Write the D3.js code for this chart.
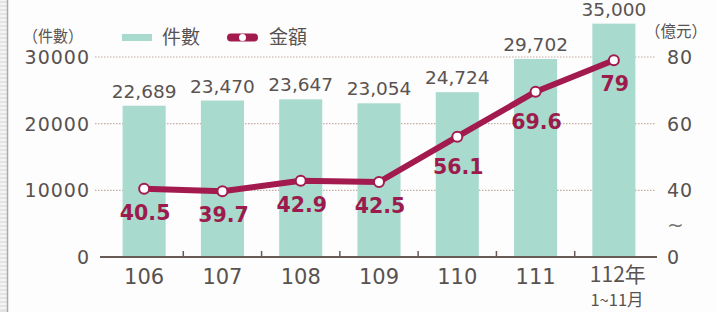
<!DOCTYPE html>
<html>
<head>
  <meta charset="utf-8">
  <title>件數 金額</title>
  <script src="https://cdn.jsdelivr.net/npm/d3@7"></script>
  <style type="text/css">
    body { margin: 0; background: #fdfdfd; }
    svg { display: block; }
    text { font-family: "DejaVu Sans", sans-serif; }
    .cjk { font-family: "Noto Sans CJK TC", sans-serif; }
  </style>
</head>
<body>
<svg id="chart" width="717" height="312"></svg>

<script>
  var years = ['106', '107', '108', '109', '110', '111', '112'];
  var yearLabels = ['106', '107', '108', '109', '110', '111', '112年'];
  var counts = [22689, 23470, 23647, 23054, 24724, 29702, 35000];
  var amounts = [40.5, 39.7, 42.9, 42.5, 56.1, 69.6, 79];
  var leftTicks = [0, 10000, 20000, 30000];
  var rightTicks = [0, 40, 60, 80];

  var svg = d3.select('#chart');

  // left border strip
  svg.append('rect').attr('x', 0).attr('y', 0).attr('width', 7).attr('height', 312).attr('fill', '#e4e4e4');
  for (var i = 0; i < 312; i += 4) {
    svg.append('line').attr('x1', 0).attr('x2', 7).attr('y1', i).attr('y2', i)
      .attr('stroke', '#fafafa').attr('stroke-width', 1.5);
  }
  svg.append('line').attr('x1', 7.5).attr('x2', 7.5).attr('y1', 0).attr('y2', 312)
    .attr('stroke', '#a9a9a9').attr('stroke-width', 1.5);

  var x = d3.scaleBand().domain(years).range([105, 653]).paddingInner(0.45).paddingOuter(0.225);
  var y = d3.scaleLinear().domain([0, 30000]).range([257, 57]);
  var y2 = d3.scaleLinear().domain([20, 80]).range([257, 57]);
  var y2pos = function (v) { return v === 0 ? y2(20) : y2(v); };

  // dotted grid
  svg.append('g').selectAll('line')
    .data(leftTicks.filter(function (d) { return d > 0; }))
    .enter().append('line')
    .attr('x1', 95).attr('x2', 655)
    .attr('y1', function (d) { return y(d); })
    .attr('y2', function (d) { return y(d); })
    .attr('stroke', '#c4aca6').attr('stroke-width', 1.2)
    .attr('stroke-dasharray', '1.5,1.5');

  // bars
  svg.append('g').selectAll('rect')
    .data(counts)
    .enter().append('rect')
    .attr('x', function (d, i) { return x(years[i]); })
    .attr('y', function (d) { return y(d); })
    .attr('width', x.bandwidth())
    .attr('height', function (d) { return y(0) - y(d); })
    .attr('fill', '#a8dacd');

  svg.append('g').selectAll('text')
    .data(counts)
    .enter().append('text')
    .attr('x', function (d, i) { return x(years[i]) + x.bandwidth() / 2; })
    .attr('y', function (d) { return y(d) - 8; })
    .attr('text-anchor', 'middle')
    .attr('font-size', 18.5)
    .attr('fill', '#5a5350')
    .text(function (d) { return d3.format(',')(d); });

  // x axis
  var xAxis = svg.append('g');
  xAxis.append('line').attr('x1', 100).attr('x2', 657).attr('y1', 257).attr('y2', 257)
    .attr('stroke', '#6a5a56').attr('stroke-width', 2);
  xAxis.selectAll('.tick')
    .data(years.slice(1))
    .enter().append('line')
    .attr('x1', function (d) { return x(d) - x.step() * x.paddingInner() / 2; })
    .attr('x2', function (d) { return x(d) - x.step() * x.paddingInner() / 2; })
    .attr('y1', 257).attr('y2', 251)
    .attr('stroke', '#6a5a56').attr('stroke-width', 1.5);
  xAxis.selectAll('.lbl')
    .data(yearLabels)
    .enter().append('text')
    .attr('class', function (d, i) { return i === 6 ? 'cjk' : null; })
    .attr('x', function (d, i) { return x(years[i]) + x.bandwidth() / 2 + (i === 6 ? 4 : 0); })
    .attr('y', function (d, i) { return i === 6 ? 282 : 284; })
    .attr('text-anchor', 'middle')
    .attr('font-size', 21)
    .attr('fill', '#585250')
    .text(function (d) { return d; });
  svg.append('text').attr('class', 'cjk')
    .attr('x', 617).attr('y', 306)
    .attr('text-anchor', 'middle')
    .attr('font-size', 16.5)
    .attr('fill', '#585250')
    .text('1~11月');

  // left axis labels
  svg.append('g').selectAll('text')
    .data(leftTicks)
    .enter().append('text')
    .attr('x', 90)
    .attr('y', function (d) { return y(d) + 7; })
    .attr('text-anchor', 'end')
    .attr('font-size', 19)
    .attr('letter-spacing', 1)
    .attr('fill', '#585250')
    .text(function (d) { return d; });

  // right axis labels
  svg.append('g').selectAll('text')
    .data(rightTicks)
    .enter().append('text')
    .attr('x', 667)
    .attr('y', function (d) { return y2pos(d) + 7; })
    .attr('font-size', 19)
    .attr('letter-spacing', 1)
    .attr('fill', '#585250')
    .text(function (d) { return d; });
  svg.append('text').attr('x', 667).attr('y', 232)
    .attr('font-size', 20).attr('fill', '#777')
    .text('~');

  svg.append('text').attr('class', 'cjk')
    .attr('x', 23).attr('y', 42)
    .attr('font-size', 16).attr('fill', '#585250')
    .attr('textLength', 60).attr('lengthAdjust', 'spacingAndGlyphs')
    .text('（件數）');
  svg.append('text').attr('class', 'cjk')
    .attr('x', 645).attr('y', 37)
    .attr('font-size', 16).attr('fill', '#585250')
    .attr('textLength', 62).attr('lengthAdjust', 'spacingAndGlyphs')
    .text('（億元）');

  // legend
  svg.append('rect').attr('x', 122).attr('y', 34).attr('width', 30).attr('height', 7).attr('fill', '#a8dacd');
  svg.append('text').attr('class', 'cjk').attr('x', 162).attr('y', 44)
    .attr('font-size', 19).attr('fill', '#585250').text('件數');
  svg.append('rect').attr('x', 227).attr('y', 33.5).attr('width', 31).attr('height', 8).attr('rx', 4)
    .attr('fill', '#a31a4f');
  svg.append('circle').attr('cx', 242.5).attr('cy', 37.5).attr('r', 3.5).attr('fill', '#fff');
  svg.append('text').attr('class', 'cjk').attr('x', 269).attr('y', 44)
    .attr('font-size', 19).attr('fill', '#585250').text('金額');

  // amount line
  var cx = function (i) { return x(years[i]) + x.bandwidth() / 2; };
  var line = d3.line()
    .x(function (d, i) { return cx(i); })
    .y(function (d) { return y2(d); });

  svg.append('path')
    .datum(amounts)
    .attr('d', line)
    .attr('fill', 'none')
    .attr('stroke', '#a31a4f')
    .attr('stroke-width', 6)
    .attr('stroke-linejoin', 'round');

  svg.append('g').selectAll('circle')
    .data(amounts)
    .enter().append('circle')
    .attr('cx', function (d, i) { return cx(i); })
    .attr('cy', function (d) { return y2(d); })
    .attr('r', 5)
    .attr('fill', '#fff')
    .attr('stroke', '#a31a4f')
    .attr('stroke-width', 2);

  svg.append('g').selectAll('text')
    .data(amounts)
    .enter().append('text')
    .attr('x', function (d, i) { return cx(i) + 1; })
    .attr('y', function (d, i) { return y2(d) + (i === 4 || i === 5 ? 37 : 31); })
    .attr('text-anchor', 'middle')
    .attr('font-size', 20.5)
    .attr('font-weight', 'bold')
    .attr('fill', '#9c1b4c')
    .text(function (d) { return d; });
</script>
</body>
</html>
